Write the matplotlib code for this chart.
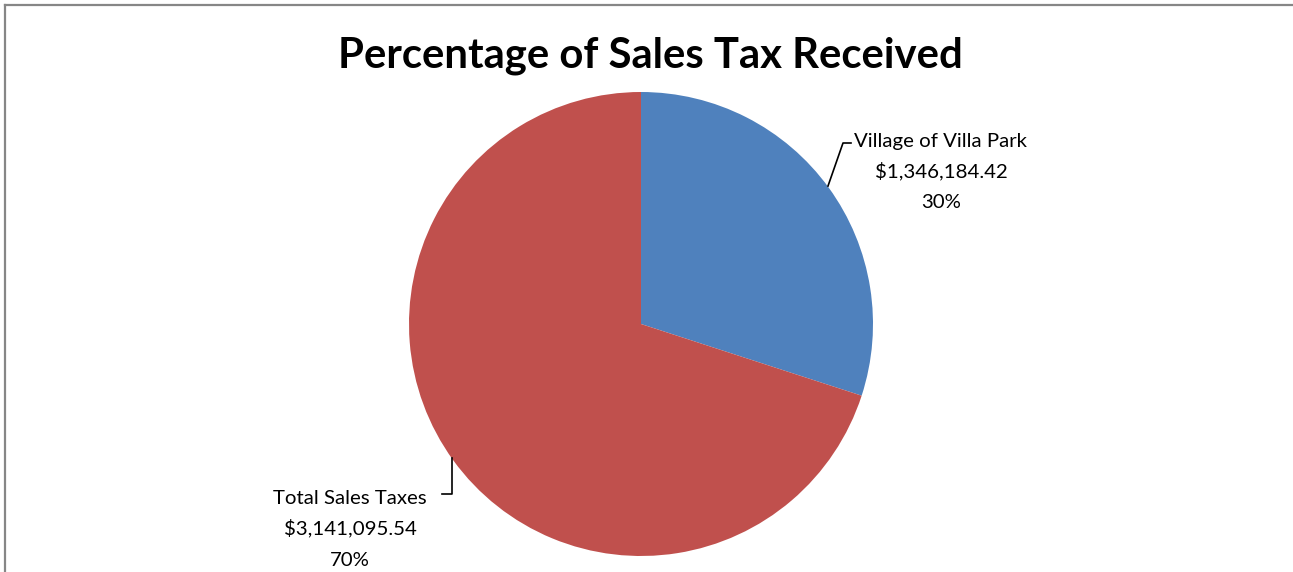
import matplotlib
matplotlib.use("Agg")
import matplotlib.pyplot as plt
from matplotlib.lines import Line2D

title = "Percentage of Sales Tax Received"
categories = ["Village of Villa Park", "Total Sales Taxes"]
values = [1346184.42, 3141095.54]
colors = ["#4F81BD", "#C0504D"]

W, H = 1293, 572
fig = plt.figure(figsize=(W / 100, H / 100), dpi=100)
ax = fig.add_axes([0, 0, 1, 1])

def Y(y):
    return H - y

cx, cy, r = 641, 324, 232
ax.pie(values, colors=colors, startangle=90, counterclock=False,
       center=(cx, Y(cy)), radius=r, frame=True,
       wedgeprops=dict(linewidth=0))
ax.set_xlim(0, W)
ax.set_ylim(0, H)
ax.set_aspect("equal")
ax.axis("off")

font = "Lato"
total = sum(values)
labels = [[c, f"${v:,.2f}", f"{round(100 * v / total):.0f}%"] for c, v in zip(categories, values)]

ax.text(650, Y(56), title, ha="center", va="center", fontsize=30.2,
        fontweight="bold", family=font, color="black")

label_pos = [(941, 146.5), (350, 503.5)]
for lines, (lx, ly) in zip(labels, label_pos):
    for i, line in enumerate(lines):
        ax.text(lx, Y(ly + 31 * i), line, ha="center", va="baseline",
                fontsize=14.7, family=font, color="black")

# leader lines
ax.plot([828, 843, 851], [Y(186), Y(143), Y(143)], color="black", lw=1.2)
ax.plot([452, 452, 442], [Y(458), Y(494), Y(494)], color="black", lw=1.2)

# chart border (top and left visible)
fig.add_artist(Line2D([4.5 / W, 1], [1 - 5 / H, 1 - 5 / H], transform=fig.transFigure,
                      color="#868686", lw=1.6))
fig.add_artist(Line2D([5 / W, 5 / W], [0, 1 - 4.5 / H], transform=fig.transFigure,
                      color="#868686", lw=1.6))

fig.savefig("out.png", dpi=100, facecolor="white")
